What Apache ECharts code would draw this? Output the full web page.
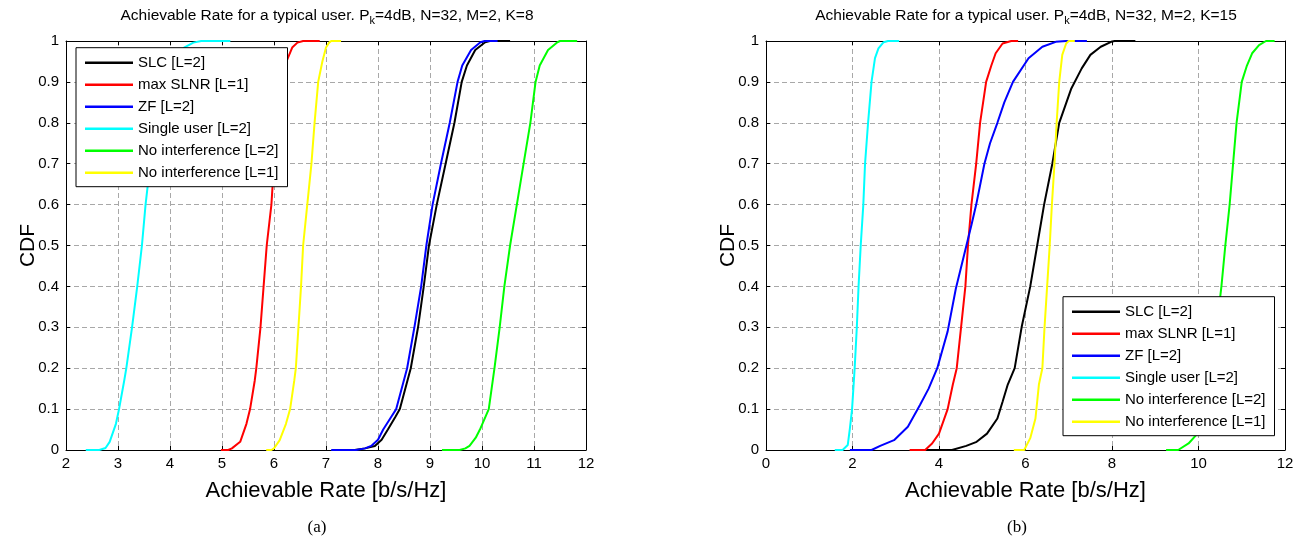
<!DOCTYPE html>
<html>
<head>
<meta charset="utf-8">
<title>Achievable Rate CDF</title>
<script src="https://cdn.jsdelivr.net/npm/echarts@6/dist/echarts.min.js"></script>
<style>
  html, body { margin: 0; padding: 0; background: #fff; }
  #chart { width: 1305px; height: 545px; }
</style>
</head>
<body>
<div id="chart"></div>
<script>
// Legend labels, shared by both panels
const seriesNames = ['SLC [L=2]', 'max SLNR [L=1]', 'ZF [L=2]', 'Single user [L=2]', 'No interference [L=2]', 'No interference [L=1]'];
const seriesColors = ['#000000', '#ff0000', '#0000ff', '#00ffff', '#00ff00', '#ffff00'];

// Panel (a): K = 8, points are [rate b/s/Hz, CDF]
const slcA = [[7.55,0],[7.75,0.004],[7.94,0.01],[8.07,0.025],[8.19,0.05],[8.33,0.08],[8.42,0.1],[8.63,0.2],[8.77,0.3],[8.88,0.4],[8.98,0.5],[9.13,0.6],[9.3,0.7],[9.47,0.8],[9.61,0.9],[9.71,0.94],[9.87,0.978],[10.06,0.997],[10.15,1],[10.54,1]];
const slnrA = [[4.98,0],[5.12,0],[5.19,0.004],[5.35,0.02],[5.47,0.064],[5.54,0.1],[5.63,0.17],[5.66,0.2],[5.74,0.3],[5.8,0.4],[5.86,0.5],[5.95,0.6],[6.0,0.7],[6.07,0.8],[6.16,0.9],[6.24,0.95],[6.35,0.984],[6.45,0.996],[6.56,1],[6.88,1]];
const zfA = [[7.1,0],[7.58,0],[7.75,0.004],[7.87,0.01],[8.0,0.025],[8.1,0.05],[8.25,0.08],[8.35,0.1],[8.56,0.2],[8.7,0.3],[8.83,0.4],[8.93,0.5],[9.05,0.6],[9.21,0.7],[9.38,0.8],[9.53,0.9],[9.62,0.94],[9.79,0.978],[9.97,0.997],[10.05,1],[10.3,1]];
const singleA = [[2.38,0],[2.64,0],[2.76,0.005],[2.84,0.02],[2.96,0.064],[3.02,0.1],[3.12,0.17],[3.16,0.2],[3.27,0.3],[3.37,0.4],[3.46,0.5],[3.53,0.6],[3.62,0.7],[3.74,0.8],[3.9,0.9],[4.05,0.95],[4.27,0.984],[4.45,0.996],[4.6,1],[5.16,1]];
const noInt2A = [[9.23,0],[9.57,0],[9.68,0.004],[9.76,0.01],[9.88,0.03],[9.96,0.05],[10.13,0.1],[10.24,0.2],[10.34,0.3],[10.43,0.4],[10.54,0.5],[10.67,0.6],[10.8,0.7],[10.93,0.8],[11.03,0.9],[11.11,0.94],[11.27,0.978],[11.45,0.997],[11.5,1],[11.83,1]];
const noInt1A = [[5.85,0],[5.95,0],[6.0,0.004],[6.11,0.024],[6.23,0.064],[6.31,0.1],[6.39,0.17],[6.42,0.2],[6.47,0.3],[6.52,0.4],[6.56,0.5],[6.64,0.6],[6.72,0.7],[6.78,0.8],[6.85,0.9],[6.93,0.95],[7.0,0.984],[7.06,0.996],[7.1,1],[7.29,1]];

// Panel (b): K = 15
const slcB = [[3.68,0],[4.3,0],[4.63,0.01],[4.87,0.02],[5.11,0.04],[5.35,0.077],[5.47,0.118],[5.59,0.16],[5.75,0.2],[5.91,0.3],[6.11,0.4],[6.27,0.5],[6.43,0.6],[6.62,0.7],[6.78,0.8],[7.06,0.884],[7.3,0.933],[7.5,0.966],[7.74,0.986],[7.98,0.998],[8.06,1],[8.54,1]];
const slnrB = [[3.32,0],[3.68,0],[3.84,0.016],[4.0,0.04],[4.2,0.1],[4.32,0.16],[4.41,0.2],[4.51,0.3],[4.61,0.4],[4.67,0.5],[4.75,0.6],[4.86,0.7],[4.95,0.8],[5.09,0.9],[5.21,0.94],[5.31,0.97],[5.47,0.994],[5.67,1],[5.83,1]];
const zfB = [[1.94,0],[2.44,0],[2.64,0.01],[2.96,0.024],[3.28,0.057],[3.56,0.11],[3.76,0.15],[3.96,0.2],[4.2,0.29],[4.39,0.395],[4.58,0.477],[4.75,0.55],[4.86,0.6],[5.05,0.7],[5.18,0.75],[5.35,0.8],[5.51,0.85],[5.71,0.9],[6.07,0.958],[6.39,0.986],[6.7,0.998],[6.94,1],[7.42,1]];
const singleB = [[1.59,0],[1.77,0],[1.89,0.012],[1.94,0.053],[1.99,0.1],[2.05,0.2],[2.1,0.3],[2.14,0.4],[2.19,0.5],[2.25,0.6],[2.29,0.7],[2.36,0.8],[2.44,0.9],[2.52,0.958],[2.6,0.982],[2.72,0.997],[2.82,1],[3.08,1]];
const noInt2B = [[9.25,0],[9.53,0],[9.77,0.016],[9.95,0.037],[10.05,0.065],[10.15,0.1],[10.3,0.2],[10.42,0.3],[10.53,0.4],[10.62,0.5],[10.72,0.6],[10.8,0.7],[10.88,0.8],[11.0,0.9],[11.12,0.94],[11.24,0.97],[11.4,0.99],[11.56,1],[11.76,1]];
const noInt1B = [[5.73,0],[5.97,0],[6.11,0.029],[6.23,0.077],[6.31,0.16],[6.39,0.2],[6.44,0.3],[6.5,0.4],[6.56,0.5],[6.61,0.6],[6.67,0.7],[6.72,0.8],[6.78,0.9],[6.85,0.966],[6.94,0.994],[7.0,1],[7.14,1]];

// Axis ranges and ticks
const xRangeA = { min: 2, max: 12, interval: 1 };
const xRangeB = { min: 0, max: 12, interval: 2 };
const yRange = { min: 0, max: 1, interval: 0.1 };

const titleA = '{a|Achievable Rate for a typical user. P}{s|k}{a|=4dB, N=32, M=2, K=8}';
const titleB = '{a|Achievable Rate for a typical user. P}{s|k}{a|=4dB, N=32, M=2, K=15}';
const xName = 'Achievable Rate [b/s/Hz]';
const yName = 'CDF';

const FONT = '"Liberation Sans", Arial, Helvetica, sans-serif';
const chart = echarts.init(document.getElementById('chart'), null, { renderer: 'canvas' });

const grids = [
  { left: 66, top: 41, width: 520, height: 409 },
  { left: 766, top: 41, width: 519, height: 409 }
];

function mainX(gridIndex, range) {
  return {
    type: 'value', gridIndex, position: 'bottom', ...range,
    axisLine: { show: true, onZero: false, lineStyle: { color: '#000', width: 1 } },
    axisTick: { show: true, inside: true, length: 4, lineStyle: { color: '#000' } },
    axisLabel: { fontSize: 15, color: '#000', margin: 6, fontFamily: FONT },
    splitLine: { show: true, lineStyle: { color: '#a8a8a8', type: [5, 3], width: 1 } },
    name: xName, nameLocation: 'middle', nameGap: 30,
    nameTextStyle: { fontSize: 22, color: '#000', fontFamily: FONT }
  };
}
function mirrorX(gridIndex, range) {
  return {
    type: 'value', gridIndex, position: 'top', ...range,
    axisLine: { show: true, onZero: false, lineStyle: { color: '#000', width: 1 } },
    axisTick: { show: true, inside: true, length: 4, lineStyle: { color: '#000' } },
    axisLabel: { show: false }, splitLine: { show: false }
  };
}
function mainY(gridIndex) {
  return {
    type: 'value', gridIndex, position: 'left', ...yRange,
    axisLine: { show: true, onZero: false, lineStyle: { color: '#000', width: 1 } },
    axisTick: { show: true, inside: true, length: 4, lineStyle: { color: '#000' } },
    axisLabel: { fontSize: 15, color: '#000', margin: 7, fontFamily: FONT },
    splitLine: { show: true, lineStyle: { color: '#a8a8a8', type: [5, 3], width: 1 } },
    name: yName, nameLocation: 'middle', nameGap: 27, nameMoveOverlap: false,
    nameTextStyle: { fontSize: 21, color: '#000', fontFamily: FONT }
  };
}
function mirrorY(gridIndex) {
  return {
    type: 'value', gridIndex, position: 'right', ...yRange,
    axisLine: { show: true, onZero: false, lineStyle: { color: '#000', width: 1 } },
    axisTick: { show: true, inside: true, length: 4, lineStyle: { color: '#000' } },
    axisLabel: { show: false }, splitLine: { show: false }
  };
}

const panelData = [
  [slcA, slnrA, zfA, singleA, noInt2A, noInt1A],
  [slcB, slnrB, zfB, singleB, noInt2B, noInt1B]
];

const series = [];
panelData.forEach((list, p) => {
  list.forEach((pts, i) => {
    series.push({
      type: 'line', name: seriesNames[i], data: pts,
      xAxisIndex: p * 2, yAxisIndex: p * 2,
      showSymbol: false, symbol: 'none', silent: true, animation: false,
      lineStyle: { color: seriesColors[i], width: 2 },
      itemStyle: { color: seriesColors[i] },
      z: 3 + i
    });
  });
});

function legendAt(left, top) {
  return {
    data: seriesNames.map(n => ({ name: n, icon: 'rect' })),
    orient: 'vertical', left, top,
    itemWidth: 48, itemHeight: 2.5, itemGap: 0,
    padding: [4, 9, 3, 9],
    borderColor: '#000', borderWidth: 1, borderRadius: 0,
    backgroundColor: '#fff', selectedMode: false, z: 10,
    textStyle: { fontSize: 15, lineHeight: 22, color: '#000', fontFamily: FONT }
  };
}

const titleRich = {
  a: { fontSize: 15.5, fontFamily: FONT, fill: '#000', verticalAlign: 'top', lineHeight: 18 },
  s: { fontSize: 11, fontFamily: FONT, fill: '#000', verticalAlign: 'bottom', lineHeight: 11, padding: [11, 0, 0, 0] }
};

chart.setOption({
  animation: false,
  textStyle: { fontFamily: FONT },
  grid: grids,
  xAxis: [mainX(0, xRangeA), mirrorX(0, xRangeA), mainX(1, xRangeB), mirrorX(1, xRangeB)],
  yAxis: [mainY(0), mirrorY(0), mainY(1), mirrorY(1)],
  legend: [legendAt(76, 47.7), legendAt(1063, 296.7)],
  series,
  graphic: [
    { type: 'text', x: 327, y: 8, style: { text: titleA, rich: titleRich, align: 'center', verticalAlign: 'top' } },
    { type: 'text', x: 1026, y: 8, style: { text: titleB, rich: titleRich, align: 'center', verticalAlign: 'top' } },
    { type: 'text', x: 317, y: 528, style: { text: '(a)', fontSize: 17, fontFamily: '"Liberation Serif", "Times New Roman", serif', fill: '#000', align: 'center', verticalAlign: 'middle' } },
    { type: 'text', x: 1017, y: 528, style: { text: '(b)', fontSize: 17, fontFamily: '"Liberation Serif", "Times New Roman", serif', fill: '#000', align: 'center', verticalAlign: 'middle' } }
  ]
});
</script>
</body>
</html>
